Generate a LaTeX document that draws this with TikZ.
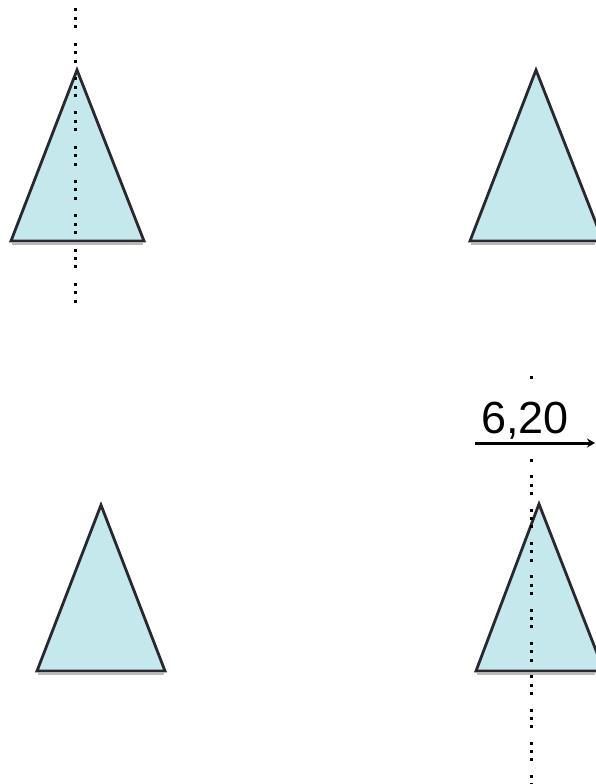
\documentclass[tikz,border=0pt]{standalone}
\usepackage{fontspec}
\setmainfont{Liberation Sans}
\usetikzlibrary{arrows.meta}
\definecolor{tri}{RGB}{196,232,236}
\definecolor{edge}{RGB}{40,40,46}
\definecolor{shadow}{RGB}{185,185,185}
\begin{document}
\begin{tikzpicture}[x=1pt,y=-1pt,
  cone/.style={fill=tri,draw=edge,line width=2.8pt,line join=miter},
  axisline/.style={line width=3pt,dash pattern=on 3pt off 5.3pt on 3pt off 5.3pt on 3pt off 13.7pt},
  axislineb/.style={line width=3pt,dash pattern=on 3pt off 5.4pt on 3pt off 5.4pt on 3pt off 14.5pt},
  dimarrow/.style={line width=3pt,-{Stealth[length=8pt,width=9pt]}},
  dimlabel/.style={anchor=base west,fill=white,inner xsep=3pt,inner ysep=6pt,
    text height=45pt,text depth=17pt,font=\fontsize{45}{45}\selectfont}]
\useasboundingbox (0,0) rectangle (595,784);
% triangles
\draw[cone] (11,241) -- (77,70) -- (144,241) -- cycle;
\draw[shadow,line width=2pt] (12,243.5) -- (143,243.5);
\draw[cone] (470,241) -- (536,70) -- (603,241) -- cycle;
\draw[shadow,line width=2pt] (471,243.5) -- (595,243.5);
\draw[cone] (37,671) -- (101,505) -- (165,671) -- cycle;
\draw[shadow,line width=2pt] (38,673.5) -- (164,673.5);
\draw[cone] (476,671) -- (539,504) -- (604,671) -- cycle;
\draw[shadow,line width=2pt] (477,673.5) -- (595,673.5);
% axes
\coordinate (a1) at (75,8.5);
\coordinate (a2) at (75,305);
\draw[axislineb] (a1) -- (a2);
\coordinate (b1) at (531,375.5);
\coordinate (b2) at (531,790);
\draw[axisline] (b1) -- (b2);
% dimension
\node[dimlabel] (lbl) at (478,433) {6,20};
\coordinate (d1) at (475,443);
\coordinate (d2) at (595,443);
\draw[dimarrow] (d1) -- (d2);
\end{tikzpicture}
\end{document}
